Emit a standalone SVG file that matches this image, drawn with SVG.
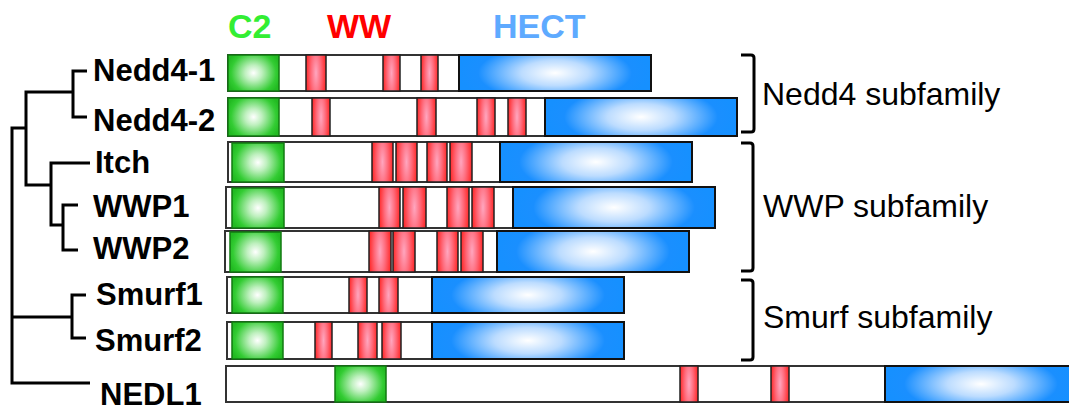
<svg xmlns="http://www.w3.org/2000/svg" width="1069" height="410" viewBox="0 0 1069 410">
<defs>
<radialGradient id="gC2" cx="0.5" cy="0.5" r="0.55" gradientTransform="translate(0.5,0.5) scale(1,1.3) translate(-0.5,-0.5)">
<stop offset="0" stop-color="#ffffff"/>
<stop offset="0.3" stop-color="#bff0bf"/>
<stop offset="0.8" stop-color="#33cc33"/>
<stop offset="1" stop-color="#22bb22"/>
</radialGradient>
<radialGradient id="gWW" cx="0.5" cy="0.5" r="0.55" gradientTransform="translate(0.5,0.5) scale(1,2.5) translate(-0.5,-0.5)">
<stop offset="0" stop-color="#ffa6bf"/>
<stop offset="0.45" stop-color="#ff6a7a"/>
<stop offset="0.9" stop-color="#ff2a2a"/>
<stop offset="1" stop-color="#ee2020"/>
</radialGradient>
<radialGradient id="gH" cx="0.5" cy="0.5" r="0.5" gradientTransform="translate(0.5,0.5) scale(1,2) translate(-0.5,-0.5)">
<stop offset="0" stop-color="#ffffff"/>
<stop offset="0.35" stop-color="#bcdcff"/>
<stop offset="0.8" stop-color="#1a8fff"/>
<stop offset="1" stop-color="#1690ff"/>
</radialGradient>
<style>
.bar{fill:#ffffff;stroke:#333;stroke-width:2}
.c2{fill:url(#gC2);stroke:#127a12;stroke-width:1.5}
.ww{fill:url(#gWW);stroke:#222;stroke-width:1.5}
.h{fill:url(#gH);stroke:#111;stroke-width:2}
.lbl{font-family:"Liberation Sans",Arial,sans-serif;font-weight:bold;font-size:31px;fill:#000}
.fam{font-family:"Liberation Sans",Arial,sans-serif;font-size:32px;fill:#000}
.hdr{font-family:"Liberation Sans",Arial,sans-serif;font-weight:bold;font-size:34px}
.ln{fill:none;stroke:#000;stroke-width:3}
</style>
</defs>
<rect width="1069" height="410" fill="#ffffff"/>
<g id="headers">
<text class="hdr" x="228" y="38" fill="#33ee33">C2</text>
<text class="hdr" x="327" y="38" fill="#ff0000">WW</text>
<text class="hdr" x="493" y="38" fill="#5eaaff">HECT</text>
</g>
<g id="connectors">
<path class="ln" d="M87,71 H73 V117 H87"/>
<path class="ln" d="M73,92 H26 V185 H51"/>
<path class="ln" d="M90,163 H51 V225 H63"/>
<path class="ln" d="M78,205 H63 V250 H78"/>
<path class="ln" d="M26,128 H12 V383 H90"/>
<path class="ln" d="M12,317 H72"/>
<path class="ln" d="M86,295 H72 V338 H86"/>
</g>
<g id="nedd4-1">
<text class="lbl" x="93" y="81">Nedd4-1</text>
<rect class="bar" x="228" y="55" width="423" height="36"/>
<rect class="c2" x="228" y="55" width="51" height="36"/>
<rect class="ww" x="306" y="55" width="20" height="36"/>
<rect class="ww" x="383" y="55" width="17" height="36"/>
<rect class="ww" x="421" y="55" width="17" height="36"/>
<rect class="h" x="459" y="55" width="192" height="36"/>
</g>
<g id="nedd4-2">
<text class="lbl" x="93" y="131">Nedd4-2</text>
<rect class="bar" x="228" y="98" width="509" height="38"/>
<rect class="c2" x="228" y="98" width="51" height="38"/>
<rect class="ww" x="312" y="98" width="18" height="38"/>
<rect class="ww" x="417" y="98" width="19" height="38"/>
<rect class="ww" x="477" y="98" width="18" height="38"/>
<rect class="ww" x="508" y="98" width="18" height="38"/>
<rect class="h" x="545" y="98" width="192" height="38"/>
</g>
<g id="itch">
<text class="lbl" x="95" y="173">Itch</text>
<rect class="bar" x="228" y="142" width="464" height="40"/>
<rect class="c2" x="232" y="143" width="52" height="39"/>
<rect class="ww" x="372" y="142" width="21" height="40"/>
<rect class="ww" x="396" y="142" width="21" height="40"/>
<rect class="ww" x="427" y="142" width="20" height="40"/>
<rect class="ww" x="450" y="142" width="22" height="40"/>
<rect class="h" x="500" y="142" width="192" height="40"/>
</g>
<g id="wwp1">
<text class="lbl" x="93" y="217">WWP1</text>
<rect class="bar" x="226" y="187" width="489" height="41"/>
<rect class="c2" x="232" y="188" width="52" height="40"/>
<rect class="ww" x="379" y="187" width="21" height="41"/>
<rect class="ww" x="403" y="187" width="23" height="41"/>
<rect class="ww" x="447" y="187" width="22" height="41"/>
<rect class="ww" x="472" y="187" width="22" height="41"/>
<rect class="h" x="513" y="187" width="202" height="41"/>
</g>
<g id="wwp2">
<text class="lbl" x="93" y="259">WWP2</text>
<rect class="bar" x="225" y="231" width="464" height="41"/>
<rect class="c2" x="230" y="232" width="51" height="40"/>
<rect class="ww" x="369" y="231" width="22" height="41"/>
<rect class="ww" x="393" y="231" width="22" height="41"/>
<rect class="ww" x="437" y="231" width="21" height="41"/>
<rect class="ww" x="461" y="231" width="22" height="41"/>
<rect class="h" x="497" y="231" width="192" height="41"/>
</g>
<g id="smurf1">
<text class="lbl" x="96" y="305">Smurf1</text>
<rect class="bar" x="227" y="277" width="397" height="36"/>
<rect class="c2" x="232" y="277" width="51" height="36"/>
<rect class="ww" x="349" y="277" width="18" height="36"/>
<rect class="ww" x="379" y="277" width="19" height="36"/>
<rect class="h" x="432" y="277" width="192" height="36"/>
</g>
<g id="smurf2">
<text class="lbl" x="95" y="351">Smurf2</text>
<rect class="bar" x="227" y="322" width="397" height="37"/>
<rect class="c2" x="232" y="322" width="51" height="37"/>
<rect class="ww" x="315" y="322" width="17" height="37"/>
<rect class="ww" x="358" y="322" width="19" height="37"/>
<rect class="ww" x="382" y="322" width="19" height="37"/>
<rect class="h" x="432" y="322" width="192" height="37"/>
</g>
<g id="nedl1">
<text class="lbl" x="100" y="405">NEDL1</text>
<rect class="bar" x="226" y="366" width="850" height="36"/>
<rect class="c2" x="335" y="366" width="51" height="36"/>
<rect class="ww" x="680" y="366" width="18" height="36"/>
<rect class="ww" x="771" y="366" width="18" height="36"/>
<rect class="h" x="885" y="366" width="192" height="36"/>
</g>
<g id="nedd4-subfamily">
<path class="ln" d="M741,55 H751 Q754,55 754,58 V129 Q754,132 751,132 H741"/>
<text class="fam" x="762" y="105">Nedd4 subfamily</text>
</g>
<g id="wwp-subfamily">
<path class="ln" d="M741,143 H750 Q753,143 753,146 V268 Q753,271 750,271 H741"/>
<text class="fam" x="763" y="217">WWP subfamily</text>
</g>
<g id="smurf-subfamily">
<path class="ln" d="M741,280 H750 Q753,280 753,283 V357 Q753,360 750,360 H741"/>
<text class="fam" x="763" y="328">Smurf subfamily</text>
</g>
</svg>
